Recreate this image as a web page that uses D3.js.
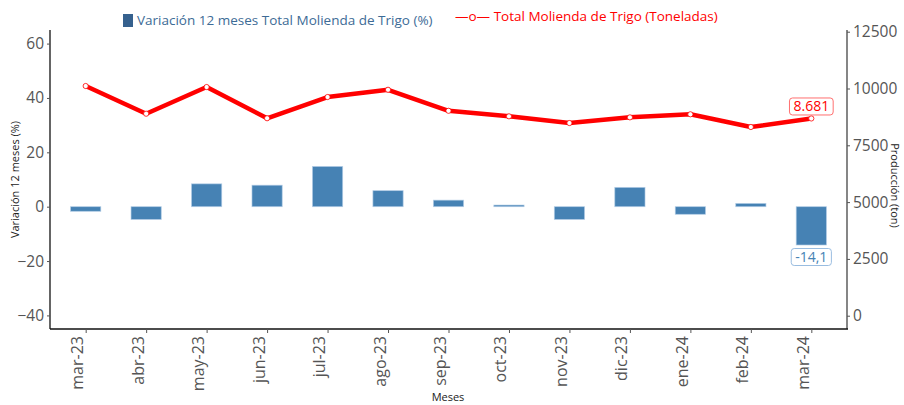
<!DOCTYPE html>
<html>
<head>
<meta charset="utf-8">
<script src="https://cdn.jsdelivr.net/npm/d3@7"></script>
<style>
  body { margin: 0; background: #fff; }
  svg { display: block; font-family: "Open Sans", sans-serif; }
</style>
</head>
<body>
<script>
// chart data
var months = ["mar-23", "abr-23", "may-23", "jun-23", "jul-23", "ago-23", "sep-23",
  "oct-23", "nov-23", "dic-23", "ene-24", "feb-24", "mar-24"];
var variacion = [-1.7, -4.7, 8.4, 7.9, 14.8, 5.9, 2.4, 0.6, -4.7, 7.1, -2.8, 1.2, -14.1];
var molienda = [10110, 8890, 10065, 8690, 9625, 9945, 9020, 8775, 8480, 8730, 8865, 8305, 8681];
var leftTicks = [-40, -20, 0, 20, 40, 60];
var rightTicks = [0, 2500, 5000, 7500, 10000, 12500];

var svgWidth = 904;
var svgHeight = 405;

// plot area
var plot = { left: 50, right: 847, top: 30, bottom: 329 };

var svg = d3.select("body")
  .append("svg")
  .attr("width", svgWidth)
  .attr("height", svgHeight);

var xScale = d3.scalePoint()
  .domain(months)
  .range([plot.left, plot.right])
  .padding(0.59);

var yLeft = d3.scaleLinear()
  .domain([-45, 65])
  .range([plot.bottom, plot.top]);

var yRight = d3.scaleLinear()
  .domain([-585, 12575])
  .range([plot.bottom, plot.top]);

var barWidth = xScale.step() * 0.5;

// bars
svg.append("g")
  .selectAll("rect")
  .data(variacion)
  .enter()
  .append("rect")
  .attr("x", (d, i) => xScale(months[i]) - barWidth / 2)
  .attr("y", d => yLeft(Math.max(0, d)))
  .attr("width", barWidth)
  .attr("height", d => Math.abs(yLeft(d) - yLeft(0)))
  .attr("fill", "#4682b4")
  .attr("stroke", "#b3cde6")
  .attr("stroke-opacity", 0.8)
  .attr("stroke-width", 0.8);

// line
var line = d3.line()
  .x((d, i) => xScale(months[i]))
  .y(d => yRight(d));

svg.append("path")
  .datum(molienda)
  .attr("d", line)
  .attr("fill", "none")
  .attr("stroke", "#ff0000")
  .attr("stroke-width", 4.5)
  .attr("stroke-linejoin", "round");

svg.append("g")
  .selectAll("circle")
  .data(molienda)
  .enter()
  .append("circle")
  .attr("cx", (d, i) => xScale(months[i]))
  .attr("cy", d => yRight(d))
  .attr("r", 2.6)
  .attr("fill", "#fff")
  .attr("stroke", "#ff0000")
  .attr("stroke-width", 0.8);

// axes
var leftAxis = svg.append("g")
  .attr("transform", `translate(${plot.left},0)`)
  .call(d3.axisLeft(yLeft).tickValues(leftTicks).tickSize(3).tickPadding(3));

var rightAxis = svg.append("g")
  .attr("transform", `translate(${plot.right},0)`)
  .call(d3.axisRight(yRight).tickValues(rightTicks).tickFormat(d3.format("d")).tickSize(3).tickPadding(3));

var bottomAxis = svg.append("g")
  .attr("transform", `translate(0,${plot.bottom})`)
  .call(d3.axisBottom(xScale).tickSize(4).tickSizeOuter(0));

[leftAxis, rightAxis, bottomAxis].forEach(function (g) {
  g.selectAll(".tick text")
    .attr("fill", "#555")
    .style("font-family", "Open Sans, sans-serif")
    .style("font-size", "15.5px");
  g.selectAll(".tick line").attr("stroke", "#555");
});

leftAxis.select(".domain").attr("d", `M0,${plot.top}V${plot.bottom}`).attr("stroke", "#111").attr("stroke-width", 1.3);
rightAxis.select(".domain").attr("d", `M0,${plot.top}V${plot.bottom}`).attr("stroke", "#444").attr("stroke-width", 1.3);
bottomAxis.select(".domain").attr("d", `M${plot.left},0H${plot.right + 1}`).attr("stroke", "#111").attr("stroke-width", 1.3);

bottomAxis.selectAll(".tick text")
  .style("font-size", "16px")
  .attr("transform", "rotate(-90)")
  .attr("text-anchor", "end")
  .attr("x", -7)
  .attr("y", -3)
  .attr("dy", "0");

// axis titles
svg.append("text")
  .attr("transform", `translate(19,${(plot.top + plot.bottom) / 2}) rotate(-90)`)
  .attr("text-anchor", "middle")
  .style("font-size", "11px")
  .attr("fill", "#222")
  .text("Variación 12 meses (%)");

svg.append("text")
  .attr("transform", `translate(891,${(plot.top + plot.bottom) / 2 + 6}) rotate(90)`)
  .attr("text-anchor", "middle")
  .style("font-size", "11px")
  .attr("fill", "#222")
  .text("Producción (ton)");

svg.append("text")
  .attr("x", 448)
  .attr("y", 401)
  .attr("text-anchor", "middle")
  .style("font-size", "11px")
  .attr("fill", "#222")
  .text("Meses");

// legend
svg.append("rect")
  .attr("x", 123).attr("y", 14)
  .attr("width", 10).attr("height", 13)
  .attr("fill", "#36618e");

svg.append("text")
  .attr("x", 137).attr("y", 25)
  .style("font-size", "13.5px")
  .attr("fill", "#3d6b96")
  .text("Variación 12 meses Total Molienda de Trigo (%)");

svg.append("text")
  .attr("x", 455).attr("y", 21)
  .style("font-size", "13.5px")
  .attr("fill", "#ff0000")
  .text("—o— Total Molienda de Trigo (Toneladas)");

// value labels for last month
var last = months.length - 1;
var lastX = xScale(months[last]);

function boxLabel(cx, cy, txt, color, border) {
  var g = svg.append("g");
  var t = g.append("text")
    .attr("x", cx)
    .attr("y", cy + 5)
    .attr("text-anchor", "middle")
    .style("font-size", "14px")
    .attr("fill", color)
    .text(txt);
  var bb = t.node().getBBox();
  g.insert("rect", "text")
    .attr("x", bb.x - 4)
    .attr("y", cy - 8.5)
    .attr("width", bb.width + 8)
    .attr("height", 17)
    .attr("rx", 3)
    .attr("fill", "#fff")
    .attr("stroke", border)
    .attr("stroke-width", 0.9);
}

boxLabel(lastX, yRight(molienda[last]) - 12, "8.681", "#ff0000", "#ff6060");
boxLabel(lastX, yLeft(variacion[last]) + 12, "-14,1", "#4682b4", "#8fb5dc");
</script>
</body>
</html>
